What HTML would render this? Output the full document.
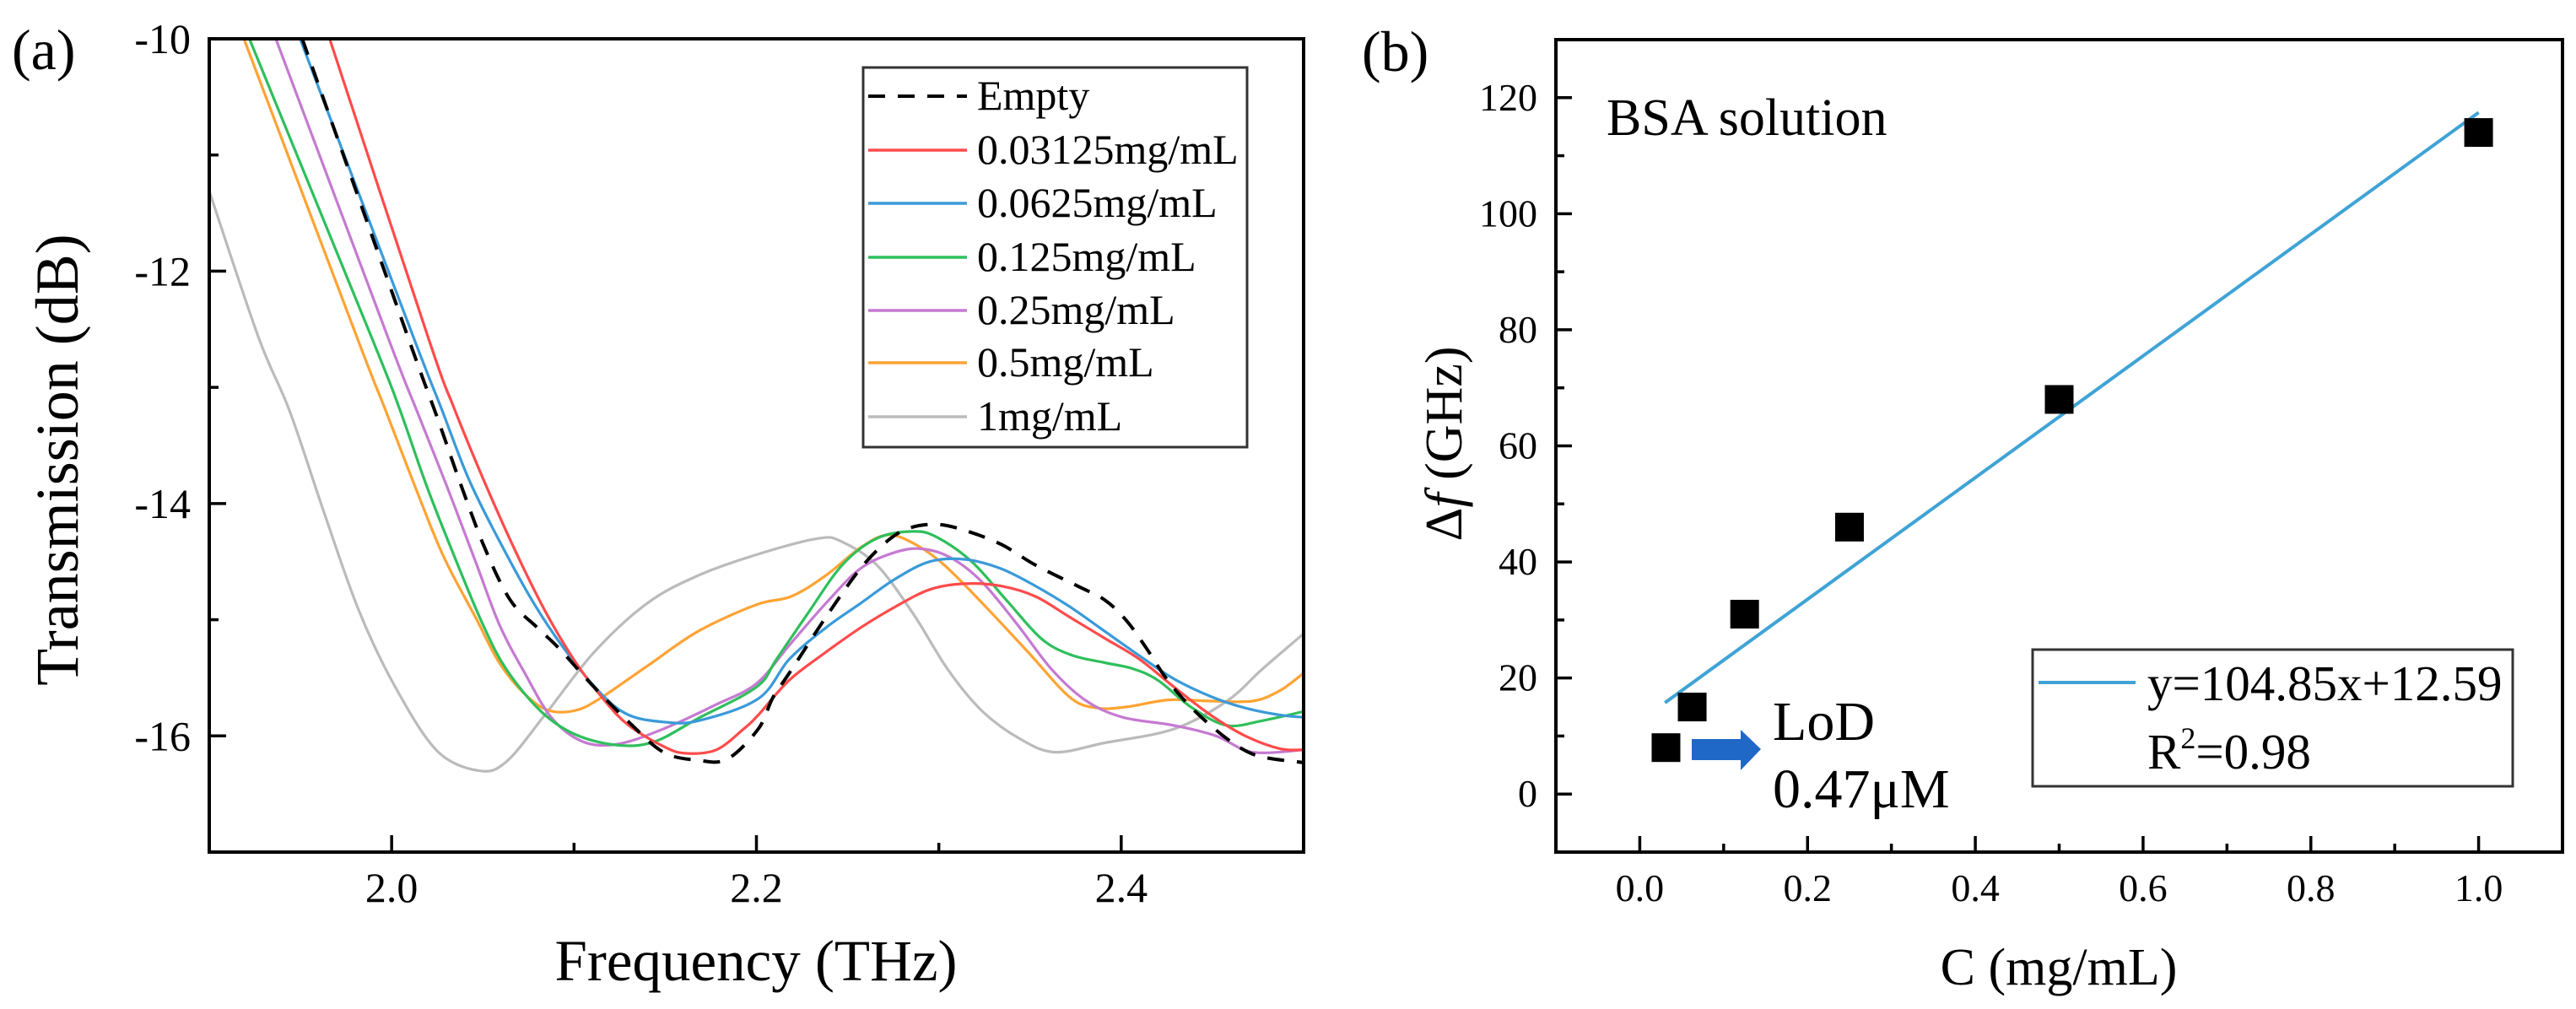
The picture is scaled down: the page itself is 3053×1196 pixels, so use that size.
<!DOCTYPE html>
<html><head><meta charset="utf-8"><style>
html,body{margin:0;padding:0;background:#fff;}
svg{display:block;font-family:"Liberation Serif","Times New Roman",serif;}
</style></head><body>
<svg id="fig" width="3053" height="1196" viewBox="0 0 3053 1196" xmlns="http://www.w3.org/2000/svg">
<defs><clipPath id="clipA"><rect x="248" y="46" width="1297" height="964"/></clipPath></defs>
<g id="panelA"></g>
<g id="panelB"></g>
</svg>
<script>
// ---------- Panel A data ----------
const seriesNames = ["Empty","0.03125mg/mL","0.0625mg/mL","0.125mg/mL","0.25mg/mL","0.5mg/mL","1mg/mL"];
const seriesColors = ["#000000","#ff4b4b","#3a9ad9","#2fbf5c","#c57ad1","#ffa333","#bbbbbb"];
const xTicksA = [2.0,2.2,2.4];
const xTickLabelsA = ["2.0","2.2","2.4"];
const yTicksA = [-16,-14,-12,-10];
const yTickLabelsA = ["-16","-14","-12","-10"];
const freqEmpty = [1.951,2.009,2.025,2.038,2.051,2.065,2.080,2.092,2.111,2.130,2.149,2.168,2.184,2.201,2.209,2.218,2.238,2.257,2.272,2.284,2.299,2.314,2.334,2.353,2.376,2.391,2.403,2.414,2.424,2.435,2.449,2.464,2.477,2.500];
const dbEmpty   = [-10,-12.57,-13.26,-13.84,-14.38,-14.83,-15.07,-15.25,-15.58,-15.88,-16.14,-16.21,-16.20,-15.94,-15.67,-15.46,-14.98,-14.56,-14.32,-14.21,-14.18,-14.23,-14.35,-14.53,-14.71,-14.83,-15.01,-15.25,-15.49,-15.70,-15.91,-16.09,-16.18,-16.23];
const freqRed = [1.966,2.020,2.034,2.050,2.067,2.084,2.101,2.117,2.130,2.149,2.161,2.178,2.193,2.201,2.218,2.238,2.257,2.276,2.295,2.314,2.334,2.353,2.372,2.391,2.410,2.429,2.449,2.468,2.487,2.500];
const dbRed   = [-10,-12.57,-13.17,-13.78,-14.38,-14.92,-15.37,-15.70,-15.91,-16.09,-16.15,-16.12,-15.94,-15.82,-15.52,-15.28,-15.07,-14.89,-14.74,-14.69,-14.71,-14.80,-14.98,-15.16,-15.34,-15.58,-15.82,-16.00,-16.11,-16.12];
const freqBlue = [1.9498,2.012,2.027,2.042,2.059,2.078,2.096,2.115,2.130,2.149,2.168,2.201,2.218,2.238,2.257,2.276,2.295,2.314,2.334,2.353,2.372,2.391,2.410,2.429,2.449,2.468,2.487,2.500];
const dbBlue   = [-10,-12.57,-13.17,-13.78,-14.32,-14.86,-15.28,-15.64,-15.82,-15.88,-15.87,-15.68,-15.34,-15.07,-14.86,-14.65,-14.50,-14.48,-14.56,-14.71,-14.89,-15.10,-15.31,-15.51,-15.66,-15.76,-15.82,-15.84];
const freqGreen = [1.922,1.989,2.004,2.019,2.034,2.050,2.063,2.082,2.101,2.124,2.144,2.168,2.200,2.211,2.228,2.247,2.266,2.286,2.299,2.318,2.337,2.356,2.372,2.391,2.406,2.420,2.439,2.458,2.477,2.500];
const dbGreen   = [-10,-12.57,-13.17,-13.84,-14.44,-15.04,-15.43,-15.79,-15.99,-16.08,-16.05,-15.85,-15.58,-15.34,-14.95,-14.53,-14.30,-14.24,-14.29,-14.50,-14.83,-15.16,-15.30,-15.37,-15.42,-15.52,-15.76,-15.91,-15.87,-15.79];
const freqPurple = [1.9365,1.998,2.013,2.030,2.046,2.059,2.073,2.088,2.105,2.124,2.149,2.178,2.200,2.218,2.238,2.257,2.276,2.291,2.307,2.324,2.343,2.362,2.381,2.401,2.429,2.452,2.472,2.500];
const dbPurple   = [-10,-12.57,-13.17,-13.84,-14.50,-15.04,-15.46,-15.85,-16.05,-16.07,-15.94,-15.73,-15.55,-15.22,-14.86,-14.56,-14.42,-14.39,-14.47,-14.68,-15.04,-15.43,-15.70,-15.84,-15.91,-16.00,-16.14,-16.12];
const freqOrange = [1.919,1.981,1.996,2.011,2.028,2.046,2.059,2.073,2.086,2.101,2.115,2.140,2.168,2.200,2.219,2.238,2.257,2.272,2.287,2.303,2.324,2.349,2.372,2.387,2.403,2.426,2.449,2.472,2.487,2.500];
const dbOrange   = [-10,-12.57,-13.17,-13.78,-14.44,-14.98,-15.37,-15.64,-15.78,-15.78,-15.67,-15.40,-15.10,-14.87,-14.80,-14.62,-14.38,-14.27,-14.35,-14.53,-14.86,-15.28,-15.67,-15.76,-15.75,-15.69,-15.70,-15.70,-15.61,-15.46];
const freqGray = [1.9,1.927,1.944,1.963,1.982,2.002,2.025,2.048,2.063,2.084,2.111,2.140,2.168,2.200,2.234,2.247,2.266,2.286,2.305,2.324,2.345,2.364,2.391,2.429,2.458,2.477,2.500];
const dbGray   = [-11.31,-12.57,-13.2,-14.08,-14.92,-15.58,-16.13,-16.30,-16.22,-15.82,-15.28,-14.86,-14.62,-14.44,-14.30,-14.33,-14.53,-14.95,-15.43,-15.79,-16.03,-16.14,-16.06,-15.94,-15.70,-15.43,-15.12];
const seriesFreq = [freqEmpty,freqRed,freqBlue,freqGreen,freqPurple,freqOrange,freqGray];
const seriesDb = [dbEmpty,dbRed,dbBlue,dbGreen,dbPurple,dbOrange,dbGray];

// ---------- Panel B data ----------
const concentrations = [0.03125,0.0625,0.125,0.25,0.5,1.0];
const freqShifts = [8,15,31,46,68,114];
const fitSlope = 104.85;
const fitIntercept = 12.59;
const fitRange = [0.03,1.0];
const xTicksB = [0,0.2,0.4,0.6,0.8,1.0];
const xTickLabelsB = ["0.0","0.2","0.4","0.6","0.8","1.0"];
const yTicksB = [0,20,40,60,80,100,120];
const yTickLabelsB = ["0","20","40","60","80","100","120"];

const NS = "http://www.w3.org/2000/svg";
function mk(parent, tag, attrs, text){
  const e = document.createElementNS(NS, tag);
  for (const k in attrs) e.setAttribute(k, attrs[k]);
  if (text !== undefined) e.textContent = text;
  parent.appendChild(e);
  return e;
}

// ===== Panel A =====
const A = document.getElementById('panelA');
const ax = {x0:248,x1:1545,y0:46,y1:1010,fmin:1.9,fmax:2.5,dmin:-17,dmax:-10};
const sxA = f => ax.x0 + (f-ax.fmin)/(ax.fmax-ax.fmin)*(ax.x1-ax.x0);
const syA = d => ax.y1 - (d-ax.dmin)/(ax.dmax-ax.dmin)*(ax.y1-ax.y0);

function smoothPath(xs, ys){
  const p = xs.map((x,i)=>[x,ys[i]]);
  let d = `M${p[0][0].toFixed(1)},${p[0][1].toFixed(1)}`;
  for (let i=0;i<p.length-1;i++){
    const p0=p[Math.max(0,i-1)],p1=p[i],p2=p[i+1],p3=p[Math.min(p.length-1,i+2)];
    const c1=[p1[0]+(p2[0]-p0[0])/6,p1[1]+(p2[1]-p0[1])/6];
    const c2=[p2[0]-(p3[0]-p1[0])/6,p2[1]-(p3[1]-p1[1])/6];
    d += ` C${c1[0].toFixed(1)},${c1[1].toFixed(1)} ${c2[0].toFixed(1)},${c2[1].toFixed(1)} ${p2[0].toFixed(1)},${p2[1].toFixed(1)}`;
  }
  return d;
}

const curves = mk(A,'g',{'clip-path':'url(#clipA)'});


for (let s=seriesNames.length-1; s>=0; s--){
  const xs = seriesFreq[s].map(sxA), ys = seriesDb[s].map(syA);
  const path = mk(curves,'path',{d:smoothPath(xs,ys),fill:'none',stroke:seriesColors[s],'stroke-width':s===0?4:3.2,'stroke-dasharray':s===0?'20 15':'none','stroke-linejoin':'round'});
  
  
}
const boxA = mk(A,'rect',{x:ax.x0,y:ax.y0,width:ax.x1-ax.x0,height:ax.y1-ax.y0,fill:'none',stroke:'#000','stroke-width':4});


for (let f=1.9; f<=2.5001; f+=0.1){
  const isMajor = xTicksA.some(t=>Math.abs(t-f)<1e-6);
  mk(A,'line',{x1:sxA(f),x2:sxA(f),y1:ax.y1,y2:ax.y1-(isMajor?20:11),stroke:'#000','stroke-width':3.5});
}
xTicksA.forEach((t,i)=>{
  const el = mk(A,'text',{x:sxA(t),y:1069,'font-size':50,'text-anchor':'middle'},xTickLabelsA[i]);
  
  
});
for (let d=-17; d<=-10; d+=1){
  const isMajor = yTicksA.includes(d);
  mk(A,'line',{x1:ax.x0,x2:ax.x0+(isMajor?20:11),y1:syA(d),y2:syA(d),stroke:'#000','stroke-width':3.5});
}
yTicksA.forEach((t,i)=>{
  const el = mk(A,'text',{x:226,y:syA(t)+17,'font-size':50,'text-anchor':'end'},yTickLabelsA[i]);
  
  
});
const leg = mk(A,'g',{});


mk(leg,'rect',{x:1023,y:80,width:455,height:450,fill:'#fff',stroke:'#333','stroke-width':3});
const legY = [114,178,241,305,368,430,494];
seriesNames.forEach((n,i)=>{
  const g = mk(leg,'g',{});
  
  
  mk(g,'line',{x1:1029,x2:1146,y1:legY[i],y2:legY[i],stroke:seriesColors[i],'stroke-width':i===0?4:3.5,'stroke-dasharray':i===0?'20 15':'none'});
  mk(g,'text',{x:1158,y:legY[i]+16,'font-size':50},n);
});
const xtA = mk(A,'text',{x:896,y:1162,'font-size':69,'text-anchor':'middle'},'Frequency (THz)');


const ytA = mk(A,'text',{x:0,y:0,'font-size':72,'text-anchor':'middle',transform:'translate(92,545) rotate(-90)'},'Transmission (dB)');


const la = mk(A,'text',{x:14,y:82,'font-size':68},'(a)');



// ===== Panel B =====
const B = document.getElementById('panelB');
const bx = {x0:1844,x1:3037,y0:47,y1:1010,cmin:-0.1,cmax:1.1,vmin:-10,vmax:130};
const sxB = c => bx.x0 + (c-bx.cmin)/(bx.cmax-bx.cmin)*(bx.x1-bx.x0);
const syB = v => bx.y1 - (v-bx.vmin)/(bx.vmax-bx.vmin)*(bx.y1-bx.y0);
const boxB = mk(B,'rect',{x:bx.x0,y:bx.y0,width:bx.x1-bx.x0,height:bx.y1-bx.y0,fill:'none',stroke:'#000','stroke-width':4});


for (let k=-1; k<=11; k++){
  const c = k/10;
  const isMajor = k>=0 && k%2===0;
  mk(B,'line',{x1:sxB(c),x2:sxB(c),y1:bx.y1,y2:bx.y1-(isMajor?19:10),stroke:'#000','stroke-width':3.5});
}
xTicksB.forEach((t,i)=>{
  const el = mk(B,'text',{x:sxB(t),y:1068,'font-size':46,'text-anchor':'middle'},xTickLabelsB[i]);
  
  
});
for (let v=-10; v<=130; v+=10){
  const isMajor = yTicksB.includes(v);
  mk(B,'line',{x1:bx.x0,x2:bx.x0+(isMajor?19:10),y1:syB(v),y2:syB(v),stroke:'#000','stroke-width':3.5});
}
yTicksB.forEach((t,i)=>{
  const el = mk(B,'text',{x:1822,y:syB(t)+15,'font-size':46,'text-anchor':'end'},yTickLabelsB[i]);
  
  
});
const fit = mk(B,'line',{x1:sxB(fitRange[0]),y1:syB(fitSlope*fitRange[0]+fitIntercept),x2:sxB(fitRange[1]),y2:syB(fitSlope*fitRange[1]+fitIntercept),stroke:'#3fa3d6','stroke-width':4});


concentrations.forEach((c,i)=>{
  const r = mk(B,'rect',{x:sxB(c)-17,y:syB(freqShifts[i])-17,width:34,height:34,fill:'#000'});
  
  
});
const bsa = mk(B,'text',{x:1904,y:160,'font-size':62},'BSA solution');


const arrow = mk(B,'polygon',{points:'2005,876 2063,876 2063,865 2087,888 2063,913 2063,901 2005,901',fill:'#2068c8'});


const lod = mk(B,'text',{x:2101,y:877,'font-size':66},'LoD');


const lodv = mk(B,'text',{x:2101,y:957,'font-size':66},'0.47μM');


const legB = mk(B,'g',{});


mk(legB,'rect',{x:2409,y:770,width:569,height:162,fill:'#fff',stroke:'#333','stroke-width':3});
mk(legB,'line',{x1:2416,x2:2531,y1:809,y2:809,stroke:'#3fa3d6','stroke-width':4});
mk(legB,'text',{x:2545,y:830,'font-size':59},'y=104.85x+12.59');
const r2 = mk(legB,'text',{x:2545,y:911,'font-size':59});
r2.innerHTML = 'R<tspan font-size="36" dy="-24">2</tspan><tspan dy="24">=0.98</tspan>';
const xtB = mk(B,'text',{x:2440,y:1167,'font-size':62,'text-anchor':'middle'},'C (mg/mL)');


const ytB = mk(B,'text',{x:0,y:0,'font-size':62,'text-anchor':'middle',transform:'translate(1732,526) rotate(-90)'});
ytB.innerHTML = 'Δ<tspan font-style="italic">f</tspan> (GHz)';


const lb = mk(B,'text',{x:1614,y:84,'font-size':68},'(b)');


</script>
</body></html>
